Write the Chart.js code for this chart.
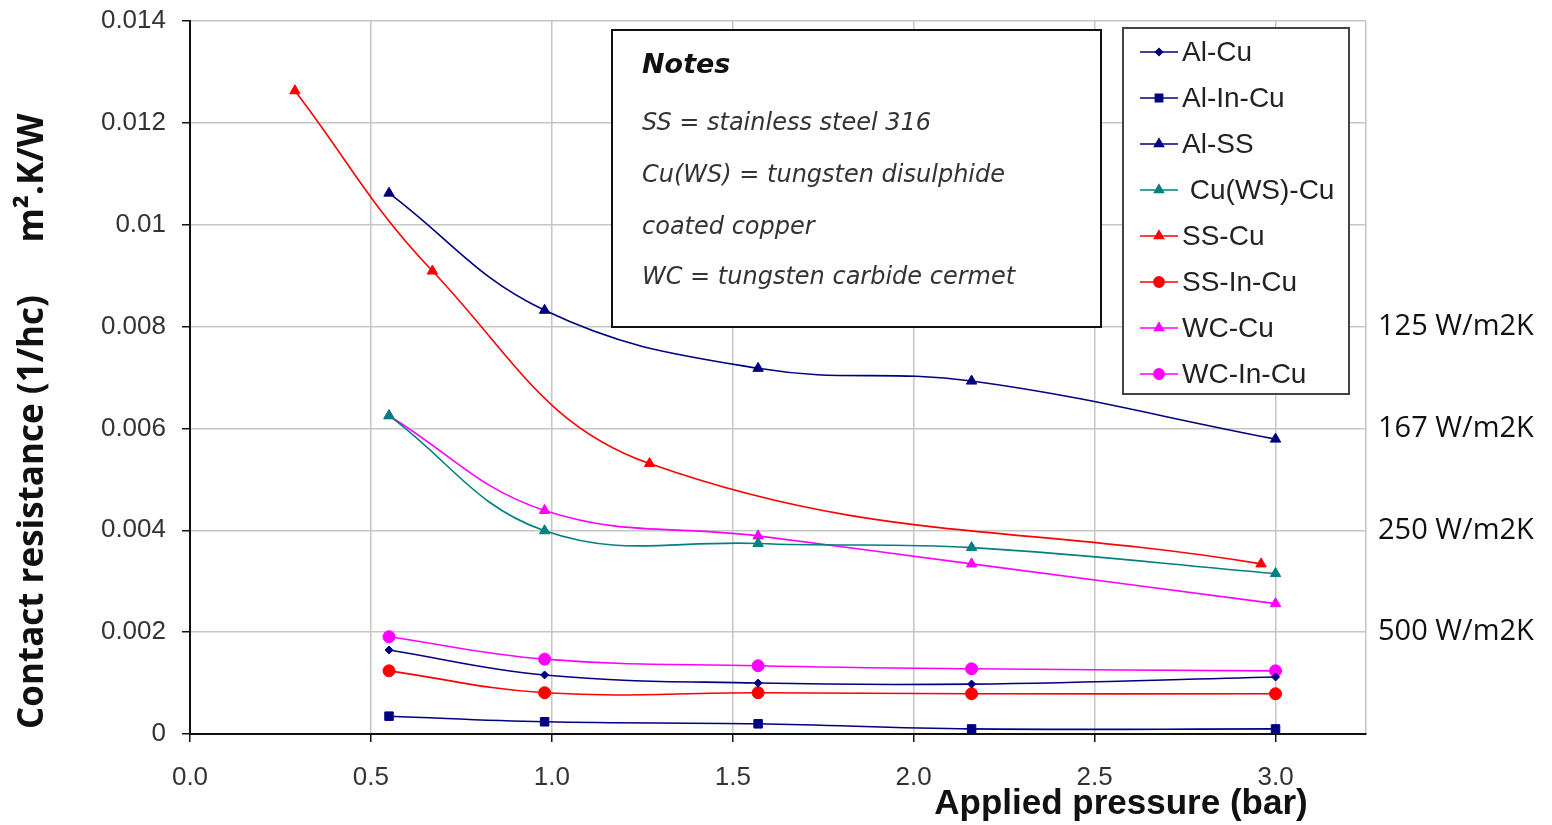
<!DOCTYPE html>
<html>
<head>
<meta charset="utf-8">
<title>Contact resistance vs applied pressure</title>
<script src="https://cdn.jsdelivr.net/npm/chart.js@4.4.1/dist/chart.umd.min.js"></script>
<style>
  html, body { margin: 0; padding: 0; background: #fff; }
  #chart { display: block; }
</style>
</head>
<body>
<canvas id="chart" width="1552" height="825"></canvas>
<script>
// pressures (bar) at which each pair was measured
const pressureMain = [0.55, 0.98, 1.57, 2.16, 3.0];
const pressureSSCu = [0.29, 0.67, 1.27, 2.96];

// contact resistance 1/hc (m2.K/W)
const alCu     = [0.00165, 0.00116, 0.00100, 0.00098, 0.00112];
const alInCu   = [0.00035, 0.00024, 0.00020, 0.00010, 0.00010];
const alSS     = [0.01062, 0.00832, 0.00718, 0.00693, 0.00579];
const cuWSCu   = [0.00625, 0.00399, 0.00374, 0.00366, 0.00315];
const ssCu     = [0.01263, 0.00909, 0.00531, 0.00334];
const ssInCu   = [0.00124, 0.00081, 0.00081, 0.00079, 0.00079];
const wcCu     = [0.00625, 0.00439, 0.00389, 0.00334, 0.00256];
const wcInCu   = [0.00191, 0.00147, 0.00134, 0.00128, 0.00124];

const seriesLabels = ['Al-Cu', 'Al-In-Cu', 'Al-SS', ' Cu(WS)-Cu', 'SS-Cu', 'SS-In-Cu', 'WC-Cu', 'WC-In-Cu'];

// axis ticks
const xTickValues = [0, 0.5, 1.0, 1.5, 2.0, 2.5, 3.0];
const yTickValues = [0, 0.002, 0.004, 0.006, 0.008, 0.01, 0.012, 0.014];

// equivalent conductances marked on the right
const htcValues = [0.008, 0.006, 0.004, 0.002];
const htcLabels = ['125 W/m2K', '167 W/m2K', '250 W/m2K', '500 W/m2K'];

const notesLines = [
  'SS = stainless steel 316',
  'Cu(WS) = tungsten disulphide',
  'coated copper',
  'WC = tungsten carbide cermet',
];

const pairs = (xs, ys) => ys.map((y, i) => ({ x: xs[i], y }));

const NAVY = '#000080';
const TEAL = '#008080';
const RED = '#ff0000';
const MAGENTA = '#ff00ff';

function series(label, xs, ys, color, pointStyle, radius) {
  return {
    label,
    data: pairs(xs, ys),
    borderColor: color,
    backgroundColor: color,
    borderWidth: 1.6,
    pointStyle,
    pointRadius: radius,
    pointBorderWidth: 1,
    tension: 0.4,
    fill: false,
  };
}

const datasets = [
  series(seriesLabels[0], pressureMain, alCu, NAVY, 'rectRot', 4),
  series(seriesLabels[1], pressureMain, alInCu, NAVY, 'rect', 6),
  series(seriesLabels[2], pressureMain, alSS, NAVY, 'triangle', 6),
  series(seriesLabels[3], pressureMain, cuWSCu, TEAL, 'triangle', 6),
  series(seriesLabels[4], pressureSSCu, ssCu, RED, 'triangle', 6),
  series(seriesLabels[5], pressureMain, ssInCu, RED, 'circle', 6),
  series(seriesLabels[6], pressureMain, wcCu, MAGENTA, 'triangle', 6),
  series(seriesLabels[7], pressureMain, wcInCu, MAGENTA, 'circle', 6),
];

/* Notes box, legend box, axis titles, W/m2K labels */
const overlayPlugin = {
  id: 'overlay',
  afterDatasetsDraw(chart) {
    const { ctx } = chart;
    ctx.save();

    // notes box
    ctx.fillStyle = '#fff';
    ctx.fillRect(612, 30, 489, 297);
    ctx.strokeStyle = '#111';
    ctx.lineWidth = 2;
    ctx.strokeRect(612, 30, 489, 297);
    ctx.fillStyle = '#111';
    ctx.textBaseline = 'middle';
    ctx.textAlign = 'left';
    ctx.font = 'italic bold 27px "DejaVu Sans"';
    ctx.fillText('Notes', 642, 66);
    ctx.fillStyle = '#333';
    ctx.font = 'italic 24px "DejaVu Sans"';
    const noteY = [124, 176, 228, 278];
    notesLines.forEach((t, i) => ctx.fillText(t, 642, noteY[i]));

    // legend box
    ctx.fillStyle = '#fff';
    ctx.fillRect(1123, 28, 226, 366);
    ctx.strokeStyle = '#444';
    ctx.lineWidth = 2;
    ctx.strokeRect(1123, 28, 226, 366);
    ctx.font = '28px "Liberation Sans"';
    chart.data.datasets.forEach((ds, i) => {
      const y = 52 + i * 46;
      ctx.strokeStyle = ds.borderColor;
      ctx.lineWidth = 1.6;
      ctx.beginPath();
      ctx.moveTo(1140, y);
      ctx.lineTo(1178, y);
      ctx.stroke();
      ctx.fillStyle = ds.backgroundColor;
      Chart.helpers.drawPoint(ctx, {
        pointStyle: ds.pointStyle,
        radius: ds.pointRadius * 0.85,
        rotation: 0,
        borderWidth: 1,
      }, 1159, y);
      ctx.fillStyle = '#222';
      ctx.fillText(ds.label, 1182, y + 1);
    });

    ctx.restore();
  },
  afterDraw(chart) {
    const { ctx, chartArea, scales } = chart;
    ctx.save();
    ctx.fillStyle = '#111';
    ctx.textBaseline = 'middle';

    // W/m2K labels beside the grid lines
    ctx.textAlign = 'left';
    ctx.font = '29px "Open Sans"';
    htcValues.forEach((v, i) => {
      ctx.fillText(htcLabels[i], chartArea.right + 12, scales.y.getPixelForValue(v));
    });

    // x title
    ctx.textAlign = 'center';
    ctx.font = 'bold 35px "Liberation Sans"';
    ctx.fillText('Applied pressure (bar)', 1121, 804);

    // y title (two parts, rotated)
    ctx.translate(33, 0);
    ctx.rotate(-Math.PI / 2);
    ctx.font = 'bold 35px "Open Sans"';
    ctx.fillText('Contact resistance (1/hc)', -512, 0);
    ctx.fillText('m\u00B2.K/W', -178, 0);
    ctx.restore();
  },
};

new Chart(document.getElementById('chart'), {
  type: 'line',
  data: { datasets },
  plugins: [overlayPlugin],
  options: {
    responsive: false,
    animation: false,
    layout: { padding: { left: 0, right: 186, top: 21, bottom: 0 } },
    plugins: {
      legend: { display: false },
      tooltip: { enabled: false },
    },
    scales: {
      x: {
        type: 'linear',
        min: 0,
        max: 3.25,
        afterFit: (scale) => { scale.height = 91; },
        afterBuildTicks: (scale) => {
          scale.ticks = xTickValues.map((v) => ({ value: v })).concat([{ value: 3.25 }]);
        },
        border: { color: '#111', width: 2 },
        grid: {
          color: '#c6c6c6',
          lineWidth: 1.5,
          tickLength: 8,
          tickColor: (c) => (c.tick && c.tick.value > 3.1 ? 'rgba(0,0,0,0)' : '#111'),
        },
        ticks: {
          padding: 20,
          color: '#333',
          font: { family: 'Liberation Sans', size: 26 },
          maxRotation: 0,
          callback: (v) => (v > 3.1 ? '' : Number(v).toFixed(1)),
        },
      },
      y: {
        min: 0,
        max: 0.014,
        afterFit: (scale) => {
          scale.width = 190;
          scale.paddingTop = 0;
          scale.paddingBottom = 0;
        },
        afterBuildTicks: (scale) => {
          scale.ticks = yTickValues.map((v) => ({ value: v }));
        },
        border: { color: '#111', width: 2 },
        grid: {
          color: '#c6c6c6',
          lineWidth: 1.5,
          tickLength: 8,
          tickColor: '#111',
        },
        ticks: {
          padding: 16,
          color: '#333',
          font: { family: 'Liberation Sans', size: 26 },
          callback: (v) => String(parseFloat(Number(v).toFixed(3))),
        },
      },
    },
  },
});
</script>
</body>
</html>
